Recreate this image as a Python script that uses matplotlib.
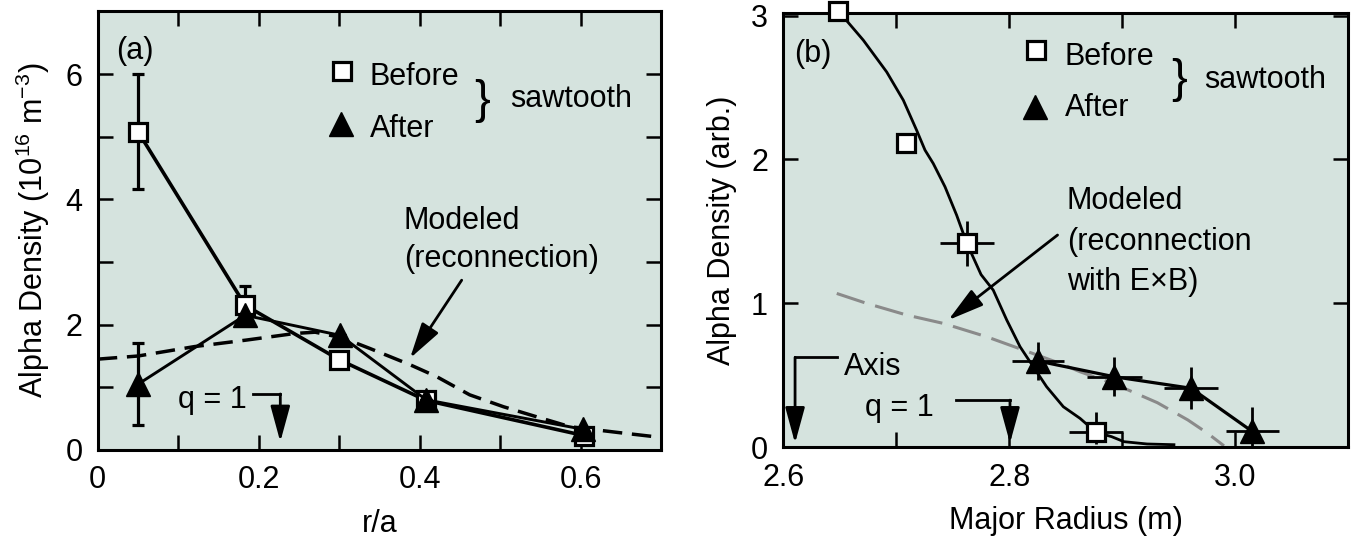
import matplotlib
matplotlib.use("Agg")
import matplotlib.pyplot as plt
from matplotlib.ticker import FixedLocator

plt.rcParams['font.family'] = ['Liberation Sans', 'DejaVu Sans']
plt.rcParams['mathtext.fontset'] = 'custom'
plt.rcParams['mathtext.rm'] = 'Liberation Sans'
plt.rcParams['mathtext.it'] = 'Liberation Sans'
plt.rcParams['lines.scale_dashes'] = False

# ---------------- Panel (a) data ----------------
ra_before = [0.05, 0.183, 0.30, 0.408, 0.604]
dens_before = [5.08, 2.31, 1.44, 0.79, 0.23]
err_before = [0.92, 0.31, 0.0, 0.0, 0.0]
ra_after = [0.05, 0.183, 0.301, 0.408, 0.603]
dens_after = [1.05, 2.15, 1.83, 0.80, 0.33]
err_after = [0.65, 0.0, 0.0, 0.0, 0.0]
ra_model = [0.0, 0.05, 0.12, 0.185, 0.245, 0.27, 0.30, 0.324, 0.338, 0.388,
            0.421, 0.462, 0.504, 0.545, 0.587, 0.649, 0.70]
dens_model = [1.45, 1.50, 1.65, 1.755, 1.86, 1.88, 1.80, 1.69, 1.62, 1.36,
              1.17, 0.88, 0.69, 0.53, 0.37, 0.275, 0.20]

# ---------------- Panel (b) data ----------------
R_before = [2.6487, 2.7086, 2.7623, 2.8767]
n_before = [3.03, 2.115, 1.42, 0.104]
R_before_err = [0.0, 0.0, 0.024, 0.0235]
n_before_err_lo = [0.0, 0.0, 0.16, 0.08]
n_before_err_hi = [0.0, 0.0, 0.15, 0.14]
R_after = [2.825, 2.893, 2.961, 3.015]
n_after = [0.60, 0.49, 0.41, 0.11]
R_after_err = [0.023, 0.0245, 0.024, 0.0235]
n_after_err_lo = [0.135, 0.135, 0.145, 0.10]
n_after_err_hi = [0.135, 0.135, 0.145, 0.17]
R_fit = [2.6487, 2.6708, 2.6915, 2.7062, 2.718, 2.7254, 2.7327, 2.7431, 2.7534,
         2.7623, 2.775, 2.7858, 2.7977, 2.8095, 2.8212, 2.833, 2.8478, 2.8626,
         2.8767, 2.8905, 2.9015, 2.9219, 2.9457]
n_fit = [3.032, 2.829, 2.608, 2.412, 2.203, 2.065, 1.972, 1.810, 1.613,
         1.42, 1.20, 1.092, 0.885, 0.699, 0.56, 0.421, 0.282, 0.201,
         0.104, 0.074, 0.039, 0.023, 0.018]
R_model = [2.6473, 2.6738, 2.7092, 2.7416, 2.78, 2.8124, 2.8449, 2.8626,
           2.893, 2.931, 2.958, 2.975, 2.99]
n_model = [1.069, 1.0, 0.919, 0.861, 0.768, 0.676, 0.583, 0.525,
           0.44, 0.31, 0.19, 0.10, 0.01]

BG = '#d5e3de'
FS = 22
MS_SQ = 13
MS_TRI = 17

fig = plt.figure(figsize=(13.51, 5.38), dpi=100)
axa = fig.add_axes([0.0724, 0.1636, 0.4171, 0.8152])
axb = fig.add_axes([0.5798, 0.1686, 0.4182, 0.8078])


def style(ax):
    ax.set_facecolor(BG)
    for s in ax.spines.values():
        s.set_linewidth(2.2)
    ax.tick_params(which='both', direction='in', length=11, width=1.8,
                   top=True, right=True, labelsize=FS, pad=11)


def arrow(ax, start, tip):
    ax.annotate('', xy=tip, xytext=start,
                arrowprops=dict(arrowstyle='-|>,head_length=1.1,head_width=0.3',
                                mutation_scale=20, lw=2, color='k',
                                shrinkA=0, shrinkB=0), annotation_clip=False)


# ---------------- Panel (a) ----------------
style(axa)
axa.set_xlim(0, 0.7)
axa.set_ylim(0, 7)
axa.xaxis.set_major_locator(FixedLocator([0, 0.2, 0.4, 0.6]))
axa.xaxis.set_minor_locator(FixedLocator([0.1, 0.3, 0.5]))
axa.set_xticklabels(['0', '0.2', '0.4', '0.6'])
axa.yaxis.set_major_locator(FixedLocator([0, 2, 4, 6]))
axa.yaxis.set_minor_locator(FixedLocator([1, 3, 5]))
axa.set_yticklabels(['0', '2', '4', '6'])

axa.plot(ra_model, dens_model, color='k', lw=2.5, dashes=(14, 7), zorder=2)
axa.errorbar(ra_before, dens_before, yerr=err_before, color='k', lw=2.6,
             marker='s', ms=MS_SQ, mfc='white', mec='k', mew=2.3,
             elinewidth=2.3, capsize=4, capthick=2.3, zorder=3)
axa.errorbar(ra_after, dens_after, yerr=err_after, color='k', lw=2.1,
             marker='^', ms=MS_TRI, mfc='k', mec='k',
             elinewidth=2.3, capsize=4, capthick=2.3, zorder=4)

axa.text(0.023, 6.235, '(a)', fontsize=FS, va='baseline')
axa.plot([0.3034], [6.045], 's', ms=MS_SQ, mfc='white', mec='k', mew=2.3)
axa.plot([0.3026], [5.195], '^', ms=MS_TRI, color='k')
axa.text(0.338, 5.825, 'Before', fontsize=FS, va='baseline')
axa.text(0.338, 4.99, 'After', fontsize=FS, va='baseline')
axa.text(0.477, 5.57, '}', fontsize=34, va='center', ha='center')
axa.text(0.512, 5.469, 'sawtooth', fontsize=FS, va='baseline')
axa.text(0.380, 3.52, 'Modeled', fontsize=FS, va='baseline')
axa.text(0.380, 2.925, '(reconnection)', fontsize=FS, va='baseline')
arrow(axa, (0.452, 2.71), (0.3878, 1.463))
axa.text(0.0992, 0.675, 'q = 1', fontsize=FS, va='baseline')
axa.plot([0.1924, 0.2267], [0.894, 0.894], color='k', lw=2)
arrow(axa, (0.2267, 0.894), (0.2267, 0.13))

axa.set_xlabel('r/a', fontsize=FS, labelpad=10)
axa.set_ylabel('Alpha Density (10$^{16}$ m$^{-3}$)', fontsize=FS, labelpad=10)

# ---------------- Panel (b) ----------------
style(axb)
axb.set_xlim(2.6, 3.1)
axb.set_ylim(0, 3.02)
axb.xaxis.set_major_locator(FixedLocator([2.6, 2.8, 3.0]))
axb.xaxis.set_minor_locator(FixedLocator([2.7, 2.9]))
axb.set_xticklabels(['2.6', '2.8', '3.0'])
axb.yaxis.set_major_locator(FixedLocator([0, 1, 2, 3]))
axb.set_yticklabels(['0', '1', '2', '3'])

axb.plot(R_model, n_model, color='#8a8a8a', lw=2.2, dashes=(21, 8), zorder=2)
axb.plot(R_fit, n_fit, color='k', lw=2.0, zorder=2)
axb.errorbar(R_before, n_before, xerr=R_before_err,
             yerr=[n_before_err_lo, n_before_err_hi], fmt='s', ms=MS_SQ,
             mfc='white', mec='k', mew=2.3, ecolor='k', elinewidth=2.0,
             capsize=0, zorder=3, clip_on=False)
axb.errorbar(R_after, n_after, xerr=R_after_err,
             yerr=[n_after_err_lo, n_after_err_hi], color='k', lw=2.3,
             marker='^', ms=MS_TRI, mfc='k', mec='k', ecolor='k', elinewidth=2.0,
             capsize=0, zorder=4)

axb.text(2.6097, 2.677, '(b)', fontsize=FS, va='baseline')
axb.plot([2.8233], [2.758], 's', ms=MS_SQ, mfc='white', mec='k', mew=2.3)
axb.plot([2.8223], [2.365], '^', ms=MS_TRI, color='k')
axb.text(2.849, 2.66, 'Before', fontsize=FS, va='baseline')
axb.text(2.849, 2.30, 'After', fontsize=FS, va='baseline')
axb.text(2.950, 2.55, '}', fontsize=34, va='center', ha='center')
axb.text(2.972, 2.499, 'sawtooth', fontsize=FS, va='baseline')
axb.text(2.8508, 1.653, 'Modeled', fontsize=FS, va='baseline')
axb.text(2.8508, 1.371, '(reconnection', fontsize=FS, va='baseline')
axb.text(2.8508, 1.093, 'with E\u00d7B)', fontsize=FS, va='baseline')
arrow(axb, (2.8427, 1.475), (2.746, 0.884))
axb.text(2.6537, 0.50, 'Axis', fontsize=FS, va='baseline')
axb.plot([2.6473, 2.6104], [0.625, 0.625], color='k', lw=2)
arrow(axb, (2.6104, 0.625), (2.6104, 0.028))
axb.text(2.6723, 0.215, 'q = 1', fontsize=FS, va='baseline')
axb.plot([2.7528, 2.8006], [0.328, 0.328], color='k', lw=2)
arrow(axb, (2.8006, 0.328), (2.8006, 0.028))

axb.set_xlabel('Major Radius (m)', fontsize=FS, labelpad=10)
axb.set_ylabel('Alpha Density (arb.)', fontsize=FS, labelpad=10)

fig.savefig('out.png', dpi=100)
